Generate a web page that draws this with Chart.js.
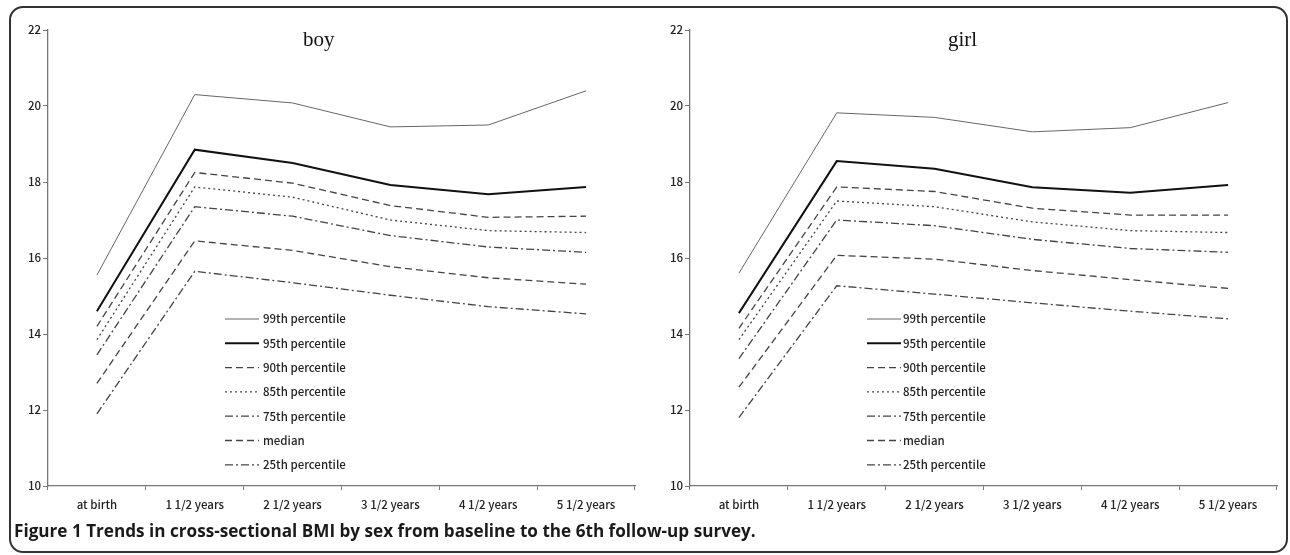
<!DOCTYPE html>
<html>
<head>
<meta charset="utf-8">
<script src="https://cdn.jsdelivr.net/npm/chart.js@4.4.1/dist/chart.umd.min.js"></script>
<style>
  html, body { margin: 0; padding: 0; background: #fff; }
  body { width: 1290px; height: 555px; position: relative; overflow: hidden; }
  #frame { position: absolute; left: 9px; top: 6px; width: 1279px; height: 547px; box-sizing: border-box;
           border: 2px solid #333; border-radius: 14px; }
  .panel { position: absolute; top: 0; }
  .ptitle { position: absolute; font-family: "Liberation Serif", serif; font-size: 21px; color: #111; top: 27px; }
  #caption { position: absolute; left: 14px; top: 519px; font-family: "Open Sans", "Liberation Sans", sans-serif;
             font-weight: bold; font-size: 17.5px; line-height: 22px; color: #1a1a1a; white-space: nowrap; transform-origin: 0 0; }
</style>
</head>
<body>
<div id="frame"></div>
<div class="panel" style="left:0px"><canvas id="boyChart" width="642" height="520"></canvas></div>
<div class="panel" style="left:642px"><canvas id="girlChart" width="642" height="520"></canvas></div>
<div class="ptitle" style="left:303px">boy</div>
<div class="ptitle" style="left:948px">girl</div>
<div id="caption">Figure 1 Trends in cross-sectional BMI by sex from baseline to the 6th follow-up survey.</div>
<script>
// ---- data ----
const categories = ['at birth', '1 1/2 years', '2 1/2 years', '3 1/2 years', '4 1/2 years', '5 1/2 years'];
const seriesNames = ['99th percentile', '95th percentile', '90th percentile', '85th percentile', '75th percentile', 'median', '25th percentile'];

const boyP99 = [15.55, 20.3, 20.08, 19.45, 19.5, 20.4];
const boyP95 = [14.6, 18.85, 18.5, 17.92, 17.68, 17.87];
const boyP90 = [14.2, 18.25, 17.97, 17.38, 17.07, 17.1];
const boyP85 = [13.85, 17.87, 17.6, 17.0, 16.72, 16.67];
const boyP75 = [13.45, 17.35, 17.1, 16.59, 16.29, 16.15];
const boyP50 = [12.7, 16.45, 16.2, 15.77, 15.48, 15.31];
const boyP25 = [11.9, 15.65, 15.35, 15.02, 14.72, 14.53];

const girlP99 = [15.6, 19.82, 19.7, 19.32, 19.43, 20.09];
const girlP95 = [14.55, 18.55, 18.35, 17.86, 17.72, 17.92];
const girlP90 = [14.15, 17.87, 17.75, 17.31, 17.13, 17.13];
const girlP85 = [13.85, 17.5, 17.35, 16.95, 16.72, 16.67];
const girlP75 = [13.35, 17.0, 16.85, 16.49, 16.25, 16.15];
const girlP50 = [12.6, 16.07, 15.97, 15.67, 15.43, 15.2];
const girlP25 = [11.8, 15.27, 15.05, 14.82, 14.6, 14.4];

const yMin = 10, yMax = 22, yStep = 2;

// ---- styles ----
const seriesStyles = [
  { color: '#666', width: 1, dash: [] },
  { color: '#111', width: 2, dash: [] },
  { color: '#444', width: 1.3, dash: [7, 4] },
  { color: '#444', width: 1.3, dash: [2, 3] },
  { color: '#444', width: 1.3, dash: [8, 3, 2, 3] },
  { color: '#444', width: 1.3, dash: [7, 4] },
  { color: '#444', width: 1.3, dash: [8, 3, 2, 3] }
];

const FONT = '"Noto Sans CJK JP", "DejaVu Sans", sans-serif';

const inlineLegend = {
  id: 'inlineLegend',
  afterDraw(chart, args, opts) {
    const ctx = chart.ctx;
    chart.data.datasets.forEach((ds, i) => {
      const y = opts.y0 + i * opts.dy;
      ctx.save();
      ctx.strokeStyle = ds.borderColor;
      ctx.lineWidth = ds.borderWidth;
      ctx.setLineDash(ds.borderDash || []);
      ctx.beginPath();
      ctx.moveTo(opts.x0, y);
      ctx.lineTo(opts.x0 + opts.len, y);
      ctx.stroke();
      ctx.setLineDash([]);
      ctx.fillStyle = '#222';
      ctx.font = opts.font;
      ctx.textBaseline = 'middle';
      ctx.textAlign = 'left';
      ctx.fillText(ds.label, opts.x0 + opts.len + opts.gap, y);
      ctx.restore();
    });
  }
};

function makeDatasets(arrs) {
  return arrs.map((d, i) => ({
    label: seriesNames[i],
    data: d,
    borderColor: seriesStyles[i].color,
    borderWidth: seriesStyles[i].width,
    borderDash: seriesStyles[i].dash,
    pointRadius: 0,
    fill: false,
    tension: 0
  }));
}

function makeChart(id, arrs, legendTextGap) {
  return new Chart(document.getElementById(id), {
    type: 'line',
    data: { labels: categories, datasets: makeDatasets(arrs) },
    plugins: [inlineLegend],
    options: {
      responsive: false,
      animation: false,
      devicePixelRatio: 1,
      layout: { padding: { top: 30, right: 7, left: 0, bottom: 0 } },
      plugins: {
        legend: { display: false },
        tooltip: { enabled: false },
        inlineLegend: { x0: 225, y0: 319, dy: 24.3, len: 34, gap: legendTextGap, font: '500 11.5px ' + FONT }
      },
      scales: {
        x: {
          offset: true,
          grid: { offset: true, drawOnChartArea: false, drawTicks: true, tickLength: 4, color: '#777' },
          border: { display: true, color: '#777', width: 1.3 },
          ticks: { color: '#222', font: { size: 11.5, weight: '500', family: FONT }, padding: 8, maxRotation: 0 },
          afterFit(scale) { scale.height = 34; }
        },
        y: {
          min: yMin, max: yMax,
          grid: { drawOnChartArea: false, drawTicks: true, tickLength: 5, color: '#777' },
          border: { display: true, color: '#777', width: 1.3 },
          ticks: { stepSize: yStep, color: '#222', font: { size: 11.5, weight: '500', family: FONT }, padding: 2 },
          afterFit(scale) { scale.width = 48; }
        }
      }
    }
  });
}

makeChart('boyChart', [boyP99, boyP95, boyP90, boyP85, boyP75, boyP50, boyP25], 4);
makeChart('girlChart', [girlP99, girlP95, girlP90, girlP85, girlP75, girlP50, girlP25], 2);

// fit caption width to reference extent
const cap = document.getElementById('caption');
const targetW = 742;
cap.style.transform = 'scaleX(' + (targetW / cap.scrollWidth) + ')';
</script>
</body>
</html>
